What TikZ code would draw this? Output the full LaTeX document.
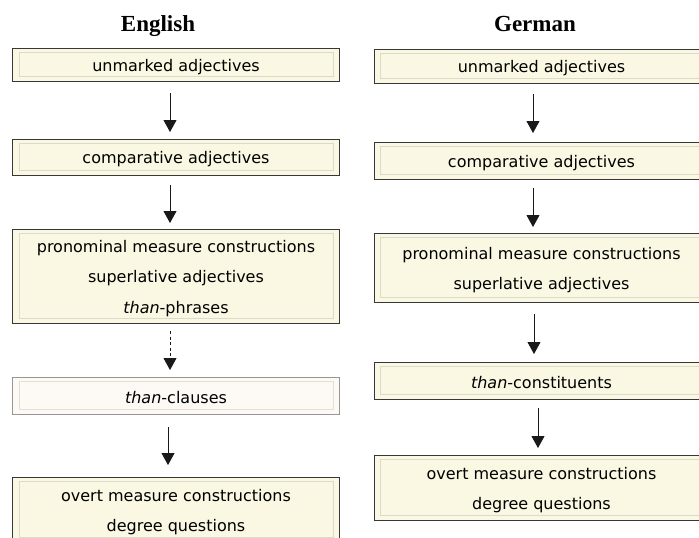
\documentclass[tikz,border=0pt]{standalone}
\usepackage{fontspec}
\newfontfamily\boxfont{DejaVu Sans}
\newfontfamily\headfont{Liberation Serif}
\usetikzlibrary{arrows.meta}
\definecolor{boxfill}{RGB}{250,248,226}
\definecolor{boxline}{RGB}{55,55,55}
\definecolor{innerline}{RGB}{218,218,205}
\definecolor{palefill}{RGB}{253,250,246}
\definecolor{paleline}{RGB}{150,150,150}
\definecolor{paleinner}{RGB}{228,222,216}
\definecolor{arrcol}{RGB}{25,25,25}
\tikzset{
  stage/.style={draw=boxline, fill=boxfill, line width=0.9pt, rectangle, inner sep=0pt,
    minimum width=#1},
  stage/.default={327pt},
  palestage/.style={stage, draw=paleline, fill=palefill},
  boxtext/.style={align=center, inner sep=0pt, font=\boxfont\fontsize{16}{30.5}\selectfont, text=black},
  innerbox/.style={draw=innerline, line width=0.8pt},
  paleinnerbox/.style={draw=paleinner, line width=0.8pt},
  arr/.style={draw=arrcol, line width=0.8pt, -{Triangle[width=13pt,length=12pt]}},
  heading/.style={font=\headfont\bfseries\fontsize{23}{26}\selectfont, anchor=base},
}
\begin{document}
\begin{tikzpicture}[x=1pt,y=-1pt]
\useasboundingbox (0,0) rectangle (699,538);
\fill[white] (0,0) rectangle (699,538);

% headings
\node[heading] (hE) at (158,31) {English};
\node[heading] (hG) at (535,31) {German};

% English column
\node[stage, minimum height=33pt] (E1) at (176,64.5) {};
\node[stage, minimum height=36pt] (E2) at (176,157) {};
\node[stage, minimum height=94pt] (E3) at (176,276) {};
\node[palestage, minimum height=37pt] (E4) at (176,395.5) {};
\node[stage, minimum height=65pt] (E5) at (176,509.5) {};

% German column
\node[stage=335pt, minimum height=34pt] (G1) at (541.5,66) {};
\node[stage=335pt, minimum height=37pt] (G2) at (541.5,160.5) {};
\node[stage=335pt, minimum height=69pt] (G3) at (541.5,267.5) {};
\node[stage=335pt, minimum height=37pt] (G4) at (541.5,380.5) {};
\node[stage=335pt, minimum height=65pt] (G5) at (541.5,487.5) {};

% inner frames
\foreach \n in {E1,E2,E3,E5,G1,G2,G3,G4,G5}{
  \draw[innerbox] ([shift={(7,5)}]\n.north west) rectangle ([shift={(-7,-5)}]\n.south east);
}
\draw[paleinnerbox] ([shift={(7,5)}]E4.north west) rectangle ([shift={(-7,-5)}]E4.south east);

% texts
\node[boxtext] (tE1) at ([yshift=-2.5pt]E1.center) {unmarked adjectives};
\node[boxtext] (tE2) at ([yshift=-2.5pt]E2.center) {comparative adjectives};
\node[boxtext] (tE3) at ([yshift=-2.5pt]E3.center) {pronominal measure constructions\\superlative adjectives\\\textit{than}-phrases};
\node[boxtext] (tE4) at ([yshift=-2.5pt]E4.center) {\textit{than}-clauses};
\node[boxtext] (tE5) at ([yshift=-2.5pt]E5.center) {overt measure constructions\\degree questions};
\node[boxtext] (tG1) at ([yshift=-2.5pt]G1.center) {unmarked adjectives};
\node[boxtext] (tG2) at ([yshift=-2.5pt]G2.center) {comparative adjectives};
\node[boxtext] (tG3) at ([yshift=-2.5pt]G3.center) {pronominal measure constructions\\superlative adjectives};
\node[boxtext] (tG4) at ([yshift=-2.5pt]G4.center) {\textit{than}-constituents};
\node[boxtext] (tG5) at ([yshift=-2.5pt]G5.center) {overt measure constructions\\degree questions};

% arrow end points
\coordinate (e1a) at (170,93);  \coordinate (e1b) at (170,132);
\coordinate (e2a) at (170,185); \coordinate (e2b) at (170,223);
\coordinate (e3a) at (170,331); \coordinate (e3b) at (170,370);
\coordinate (e4a) at (168,427); \coordinate (e4b) at (168,465);
\coordinate (g1a) at (533,94);  \coordinate (g1b) at (533,133);
\coordinate (g2a) at (533,188); \coordinate (g2b) at (533,227);
\coordinate (g3a) at (534,314); \coordinate (g3b) at (534,354);
\coordinate (g4a) at (538,408); \coordinate (g4b) at (538,448);

\draw[arr] (e1a) -- (e1b);
\draw[arr] (e2a) -- (e2b);
\draw[arr, dash pattern=on 3pt off 2.5pt] (e3a) -- (e3b);
\draw[arr] (e4a) -- (e4b);
\draw[arr] (g1a) -- (g1b);
\draw[arr] (g2a) -- (g2b);
\draw[arr] (g3a) -- (g3b);
\draw[arr] (g4a) -- (g4b);
\end{tikzpicture}
\end{document}
